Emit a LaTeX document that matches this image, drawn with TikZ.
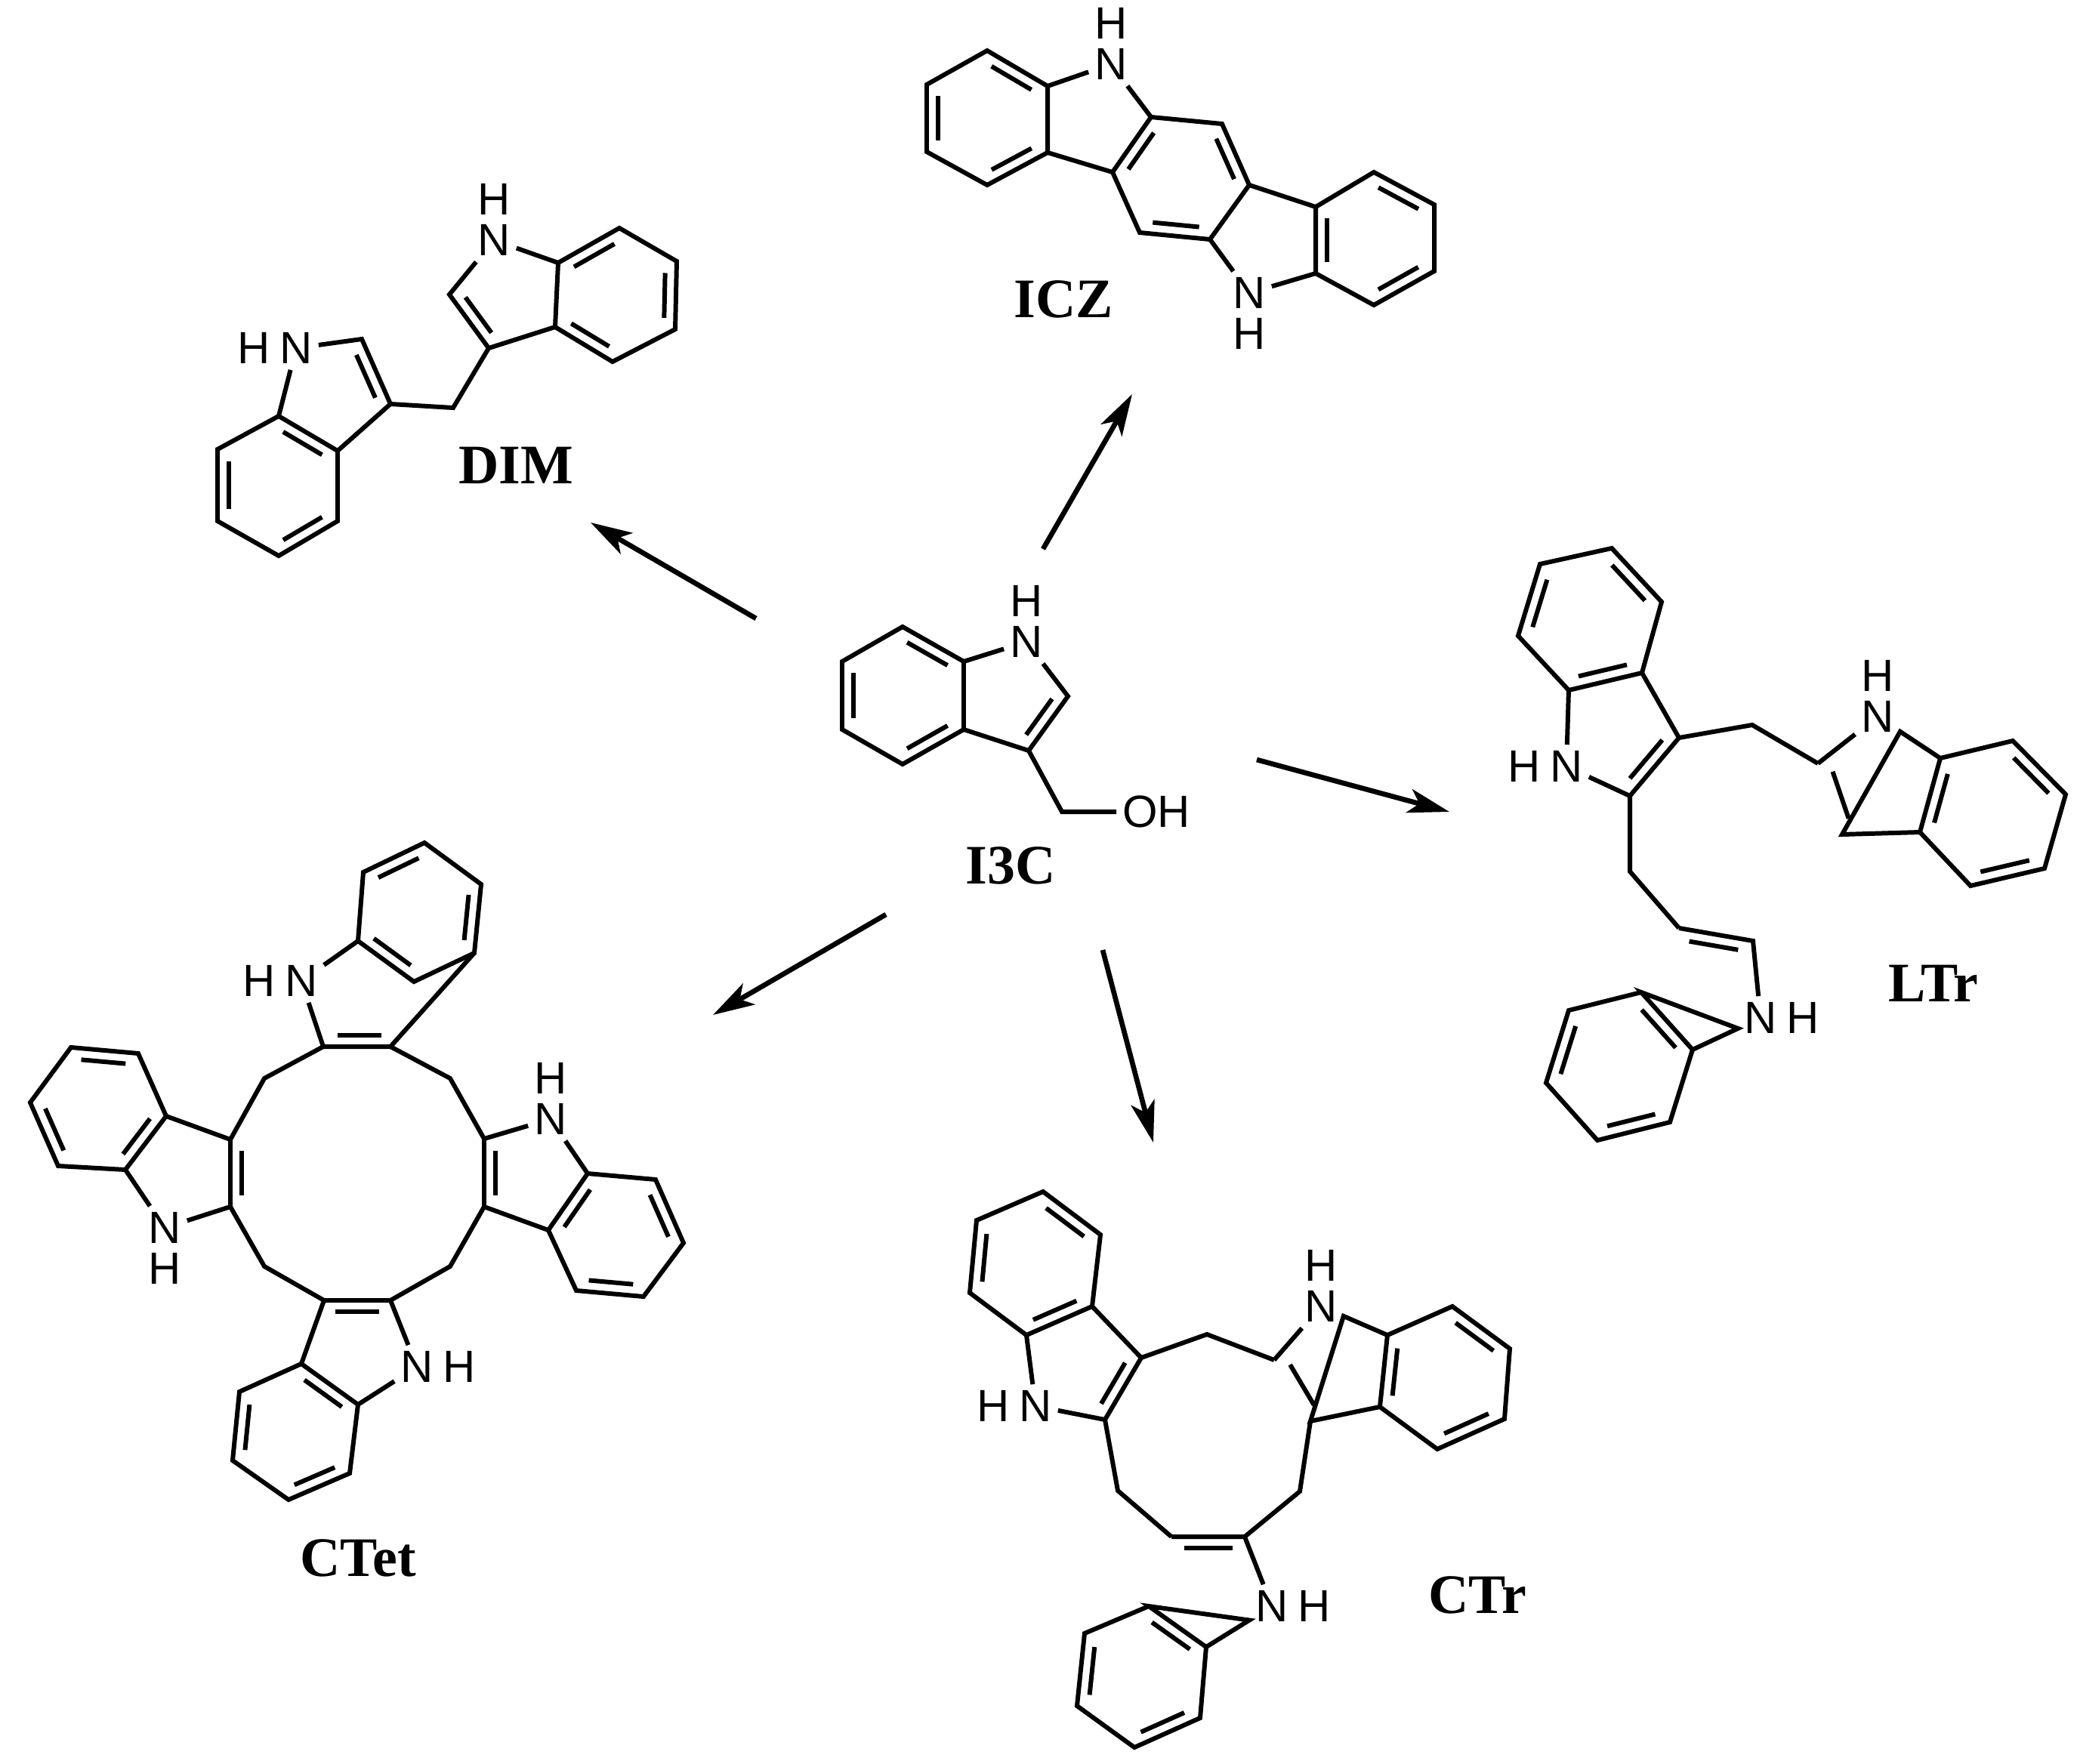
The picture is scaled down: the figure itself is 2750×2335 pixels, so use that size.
\documentclass[tikz,border=0pt]{standalone}
\usepackage{fontspec}
\usetikzlibrary{calc,arrows.meta}
\newfontfamily\atomfont{Liberation Sans}
\newfontfamily\labfont{Liberation Serif}
\newcommand\dbond[3]{%
 \coordinate (dbM) at ($(#1)!0.5!(#2)$);
 \coordinate (dbD) at ($(dbM)!0.15cm!(#3)$);
 \coordinate (dbP) at ($(#1)!0.17!(#2)$);
 \coordinate (dbQ) at ($(#2)!0.17!(#1)$);
 \draw ($(dbP)+(dbD)-(dbM)$) -- ($(dbQ)+(dbD)-(dbM)$);}
\newcommand\cen[6]{\coordinate (#1) at ($0.2*(#2)+0.2*(#3)+0.2*(#4)+0.2*(#5)+0.2*(#6)$);}
\tikzset{
 atom/.style={font=\atomfont\fontsize{17}{17}\selectfont, inner sep=1.5pt},
 hat/.style={font=\atomfont\fontsize{17}{17}\selectfont, inner sep=0.5pt},
 lbl/.style={font=\labfont\bfseries\fontsize{21}{21}\selectfont},
 rxn/.style={-{Stealth[length=0.55cm,width=0.32cm,inset=0.14cm]}, line width=1.9pt}
}
\begin{document}
\begin{tikzpicture}[x=0.01cm,y=-0.01cm,line width=1.7pt]
\useasboundingbox (0,0) rectangle (2750,2335);
% ---------- I3C ----------
\coordinate (a1) at (1195,830); \coordinate (a2) at (1115,876); \coordinate (a3) at (1115,966);
\coordinate (a4) at (1195,1012); \coordinate (a5) at (1276,966); \coordinate (a6) at (1276,876);
\node[atom] (aN) at (1359,850) {N}; \node[hat,anchor=south] at (aN.north) {H};
\coordinate (aC2) at (1414,922); \coordinate (aC3) at (1362,994); \coordinate (aCH) at (1406,1075);
\node[atom,anchor=west] (aO) at (1478,1075) {OH};
\draw (a1)--(a2)--(a3)--(a4)--(a5)--(a6)--cycle;
\draw (a6)--(aN)--(aC2)--(aC3)--(a5); \draw (aC3)--(aCH)--(aO);
\coordinate (ac) at ($(a1)!0.5!(a4)$); \cen{ap}{a6}{aN}{aC2}{aC3}{a5}
\dbond{a1}{a6}{ac}\dbond{a2}{a3}{ac}\dbond{a4}{a5}{ac}\dbond{aC2}{aC3}{ap}
\node[lbl] (lI3C) at (1338,1146) {I3C};
% ---------- ICZ ----------
\coordinate (b1) at (1307,67); \coordinate (b2) at (1227,112); \coordinate (b3) at (1227,201);
\coordinate (b4) at (1307,245); \coordinate (b5) at (1387,202); \coordinate (b6) at (1387,114);
\node[atom] (bN1) at (1471,85) {N}; \node[hat,anchor=south] at (bN1.north) {H};
\coordinate (m1) at (1524,155); \coordinate (m2) at (1618,164); \coordinate (m3) at (1654,245);
\coordinate (m4) at (1602,317); \coordinate (m5) at (1509,308); \coordinate (m6) at (1473,228);
\node[atom] (bN2) at (1654,388) {N}; \node[hat,anchor=north] at (bN2.south) {H};
\coordinate (r1) at (1742,274); \coordinate (r2) at (1819,228); \coordinate (r3) at (1899,271);
\coordinate (r4) at (1899,359); \coordinate (r5) at (1819,404); \coordinate (r6) at (1742,362);
\draw (b1)--(b2)--(b3)--(b4)--(b5)--(b6)--cycle;
\draw (m1)--(m2)--(m3)--(m4)--(m5)--(m6)--cycle;
\draw (r1)--(r2)--(r3)--(r4)--(r5)--(r6)--cycle;
\draw (b6)--(bN1)--(m1); \draw (m6)--(b5); \draw (m3)--(r1); \draw (r6)--(bN2)--(m4);
\coordinate (bc) at ($(b1)!0.5!(b4)$); \coordinate (mc) at ($(m1)!0.5!(m4)$); \coordinate (rc) at ($(r1)!0.5!(r4)$);
\dbond{b1}{b6}{bc}\dbond{b2}{b3}{bc}\dbond{b4}{b5}{bc}
\dbond{m1}{m6}{mc}\dbond{m2}{m3}{mc}\dbond{m4}{m5}{mc}
\dbond{r1}{r6}{rc}\dbond{r2}{r3}{rc}\dbond{r4}{r5}{rc}
\node[lbl] (lICZ) at (1408,396) {ICZ};
% ---------- DIM ----------
\coordinate (d1) at (369,551); \coordinate (d2) at (288,595); \coordinate (d3) at (288,690);
\coordinate (d4) at (369,736); \coordinate (d5) at (447,690); \coordinate (d6) at (447,597);
\node[atom] (dN) at (392,461) {N}; \node[hat,anchor=east] at (dN.west) {H};
\coordinate (dC2) at (479,449); \coordinate (dC3) at (517,535); \coordinate (dCH) at (600,540);
\coordinate (eC3) at (647,461); \coordinate (eC2) at (595,390);
\node[atom] (eN) at (654,318) {N}; \node[hat,anchor=south] at (eN.north) {H};
\coordinate (e1) at (739,348); \coordinate (e2) at (820,302); \coordinate (e3) at (896,346);
\coordinate (e4) at (894,436); \coordinate (e5) at (811,479); \coordinate (e6) at (735,433);
\draw (d1)--(d2)--(d3)--(d4)--(d5)--(d6)--cycle;
\draw (d1)--(dN)--(dC2)--(dC3)--(d6); \draw (dC3)--(dCH)--(eC3);
\draw (e1)--(e2)--(e3)--(e4)--(e5)--(e6)--cycle;
\draw (eC3)--(eC2)--(eN)--(e1); \draw (e6)--(eC3);
\coordinate (dc) at ($(d1)!0.5!(d4)$); \coordinate (ec) at ($(e1)!0.5!(e4)$);
\cen{dp}{d1}{dN}{dC2}{dC3}{d6}\cen{ep}{e1}{eN}{eC2}{eC3}{e6}
\dbond{d1}{d6}{dc}\dbond{d2}{d3}{dc}\dbond{d4}{d5}{dc}\dbond{dC2}{dC3}{dp}
\dbond{e1}{e2}{ec}\dbond{e3}{e4}{ec}\dbond{e5}{e6}{ec}\dbond{eC2}{eC3}{ep}
\node[lbl] (lDIM) at (683,616) {DIM};
% ---------- LTr ----------
\coordinate (A1) at (2134,726); \coordinate (A2) at (2039,747); \coordinate (A3) at (2010,842);
\coordinate (A4) at (2077,914); \coordinate (A5) at (2174,891); \coordinate (A6) at (2200,797);
\node[atom] (AN) at (2074,1015) {N}; \node[hat,anchor=east] at (AN.west) {H};
\coordinate (AC2) at (2158,1054); \coordinate (AC3) at (2223,977);
\coordinate (CHa) at (2320,960); \coordinate (CHb) at (2158,1154);
\coordinate (BC2) at (2407,1011); \node[atom] (BN) at (2486,949) {N}; \node[hat,anchor=south] at (BN.north) {H};
\coordinate (B7) at (2569,1004); \coordinate (B3) at (2542,1102); \coordinate (BC3) at (2439,1105);
\coordinate (Bb1) at (2665,981); \coordinate (Bb2) at (2735,1052); \coordinate (Bb3) at (2707,1150); \coordinate (Bb4) at (2609,1173);
\coordinate (CC3) at (2223,1229); \coordinate (CC2) at (2321,1246);
\node[atom] (CN) at (2331,1348) {N}; \node[hat,anchor=west] at (CN.east) {H};
\coordinate (C7) at (2241,1390); \coordinate (C3) at (2173,1314);
\coordinate (Cb1) at (2077,1338); \coordinate (Cb2) at (2047,1434); \coordinate (Cb3) at (2115,1510); \coordinate (Cb4) at (2211,1486);
\draw (A1)--(A2)--(A3)--(A4)--(A5)--(A6)--cycle;
\draw (A4)--(AN)--(AC2)--(AC3)--(A5);
\draw (AC3)--(CHa)--(BC2); \draw (AC2)--(CHb)--(CC3);
\draw (BC2)--(BN)--(B7)--(B3)--(BC3)--cycle;
\draw (B7)--(Bb1)--(Bb2)--(Bb3)--(Bb4)--(B3);
\draw (CC3)--(CC2)--(CN)--(C7)--(C3)--cycle;
\draw (C3)--(Cb1)--(Cb2)--(Cb3)--(Cb4)--(C7);
\coordinate (Ac) at ($(A1)!0.5!(A4)$); \coordinate (Bc) at ($(B7)!0.5!(Bb3)$); \coordinate (Cc) at ($(C3)!0.5!(Cb3)$);
\cen{Ap}{A4}{AN}{AC2}{AC3}{A5}\cen{Bp}{BC2}{BN}{B7}{B3}{BC3}\cen{Cp}{CC3}{CC2}{CN}{C7}{C3}
\dbond{A1}{A6}{Ac}\dbond{A2}{A3}{Ac}\dbond{A4}{A5}{Ac}\dbond{AC2}{AC3}{Ap}
\dbond{B7}{B3}{Bc}\dbond{Bb1}{Bb2}{Bc}\dbond{Bb3}{Bb4}{Bc}\dbond{BC2}{BC3}{Bp}
\dbond{C3}{C7}{Cc}\dbond{Cb1}{Cb2}{Cc}\dbond{Cb3}{Cb4}{Cc}\dbond{CC3}{CC2}{Cp}
\node[lbl] (lLTr) at (2560,1302) {LTr};
% ---------- CTet ----------
\coordinate (T1) at (481,1155); \coordinate (T2) at (562,1116); \coordinate (T3) at (637,1171);
\coordinate (T4) at (628,1262); \coordinate (T5) at (548,1300); \coordinate (T6) at (474,1246);
\node[atom] (TN) at (399,1299) {N}; \node[hat,anchor=east] at (TN.west) {H};
\coordinate (TC2) at (428,1386); \coordinate (TC3) at (517,1386);
\coordinate (Lb1) at (220,1478); \coordinate (Lb2) at (183,1395); \coordinate (Lb3) at (94,1387);
\coordinate (Lb4) at (40,1460); \coordinate (Lb5) at (77,1544); \coordinate (Lb6) at (166,1549);
\coordinate (LC3) at (305,1509); \coordinate (LC2) at (305,1598);
\node[atom] (LN) at (218,1626) {N}; \node[hat,anchor=north] at (LN.south) {H};
\coordinate (RC2) at (641,1508); \coordinate (RC3) at (641,1598);
\node[atom] (RN) at (729,1482) {N}; \node[hat,anchor=south] at (RN.north) {H};
\coordinate (Rb1) at (778,1554); \coordinate (Rb2) at (868,1562); \coordinate (Rb3) at (905,1646);
\coordinate (Rb4) at (852,1717); \coordinate (Rb5) at (763,1709); \coordinate (Rb6) at (726,1629);
\coordinate (DC3) at (429,1722); \coordinate (DC2) at (517,1722);
\node[atom] (DN) at (552,1810) {N}; \node[hat,anchor=west] at (DN.east) {H};
\coordinate (Db1) at (474,1860); \coordinate (Db2) at (463,1951); \coordinate (Db3) at (382,1986);
\coordinate (Db4) at (308,1934); \coordinate (Db5) at (317,1843); \coordinate (Db6) at (399,1806);
\coordinate (Q1) at (350,1428); \coordinate (Q2) at (596,1428); \coordinate (Q3) at (350,1677); \coordinate (Q4) at (596,1677);
\draw (T1)--(T2)--(T3)--(T4)--(T5)--(T6)--cycle;
\draw (T6)--(TN)--(TC2)--(TC3)--(T4);
\draw (Lb1)--(Lb2)--(Lb3)--(Lb4)--(Lb5)--(Lb6)--cycle;
\draw (Lb1)--(LC3)--(LC2)--(LN)--(Lb6);
\draw (Rb1)--(Rb2)--(Rb3)--(Rb4)--(Rb5)--(Rb6)--cycle;
\draw (Rb1)--(RN)--(RC2)--(RC3)--(Rb6);
\draw (Db1)--(Db2)--(Db3)--(Db4)--(Db5)--(Db6)--cycle;
\draw (Db6)--(DC3)--(DC2)--(DN)--(Db1);
\draw (TC2)--(Q1)--(LC3); \draw (TC3)--(Q2)--(RC2); \draw (LC2)--(Q3)--(DC3); \draw (RC3)--(Q4)--(DC2);
\coordinate (Tc) at ($(T1)!0.5!(T4)$); \coordinate (Lc) at ($(Lb1)!0.5!(Lb4)$);
\coordinate (Rc) at ($(Rb1)!0.5!(Rb4)$); \coordinate (Dc) at ($(Db1)!0.5!(Db4)$);
\cen{Tp}{T6}{TN}{TC2}{TC3}{T4}\cen{Rp}{Rb1}{RN}{RC2}{RC3}{Rb6}\cen{Dp}{Db6}{DC3}{DC2}{DN}{Db1}
\coordinate (Mc) at (473,1553);
\dbond{T1}{T2}{Tc}\dbond{T3}{T4}{Tc}\dbond{T5}{T6}{Tc}\dbond{TC2}{TC3}{Tp}
\dbond{Lb2}{Lb3}{Lc}\dbond{Lb4}{Lb5}{Lc}\dbond{Lb6}{Lb1}{Lc}\dbond{LC3}{LC2}{Mc}
\dbond{Rb1}{Rb6}{Rc}\dbond{Rb2}{Rb3}{Rc}\dbond{Rb4}{Rb5}{Rc}\dbond{RC2}{RC3}{Rp}
\dbond{Db6}{Db1}{Dc}\dbond{Db4}{Db5}{Dc}\dbond{Db2}{Db3}{Dc}\dbond{DC3}{DC2}{Dp}
\node[lbl] (lCTet) at (474,2063) {CTet};
% ---------- CTr ----------
\coordinate (U1) at (1381,1578); \coordinate (U2) at (1293,1616); \coordinate (U3) at (1284,1712);
\coordinate (U4) at (1359,1768); \coordinate (U5) at (1446,1730); \coordinate (U6) at (1457,1635);
\node[atom] (UN) at (1371,1862) {N}; \node[hat,anchor=east] at (UN.west) {H};
\coordinate (UC2) at (1463,1880); \coordinate (UC3) at (1511,1798);
\coordinate (VC2) at (1687,1801); \node[atom] (VN) at (1749,1730) {N}; \node[hat,anchor=south] at (VN.north) {H};
\coordinate (V7) at (1837,1768); \coordinate (V3) at (1827,1863); \coordinate (VC3) at (1735,1882);
\coordinate (Vb1) at (1923,1730); \coordinate (Vb2) at (1999,1786); \coordinate (Vb3) at (1992,1879); \coordinate (Vb4) at (1903,1919);
\coordinate (WC3) at (1551,2035); \coordinate (WC2) at (1648,2035);
\node[atom] (WN) at (1684,2127) {N}; \node[hat,anchor=west] at (WN.east) {H};
\coordinate (W7) at (1597,2181); \coordinate (W3) at (1521,2127);
\coordinate (Wb1) at (1436,2163); \coordinate (Wb2) at (1426,2259); \coordinate (Wb3) at (1502,2314); \coordinate (Wb4) at (1589,2275);
\coordinate (P1) at (1598,1767); \coordinate (P2) at (1721,1975); \coordinate (P3) at (1480,1974);
\draw (U1)--(U2)--(U3)--(U4)--(U5)--(U6)--cycle;
\draw (U4)--(UN)--(UC2)--(UC3)--(U5);
\draw (VC2)--(VN)--(V7)--(V3)--(VC3)--cycle;
\draw (V7)--(Vb1)--(Vb2)--(Vb3)--(Vb4)--(V3);
\draw (WC3)--(WC2)--(WN)--(W7)--(W3)--cycle;
\draw (W3)--(Wb1)--(Wb2)--(Wb3)--(Wb4)--(W7);
\draw (UC3)--(P1)--(VC2); \draw (VC3)--(P2)--(WC2); \draw (UC2)--(P3)--(WC3);
\coordinate (Uc) at ($(U1)!0.5!(U4)$); \coordinate (Vc) at ($(V7)!0.5!(Vb3)$); \coordinate (Wc) at ($(W3)!0.5!(Wb3)$);
\cen{Up}{U4}{UN}{UC2}{UC3}{U5}\cen{Vp}{VC2}{VN}{V7}{V3}{VC3}\cen{Wp}{WC3}{WC2}{WN}{W7}{W3}
\dbond{U1}{U6}{Uc}\dbond{U2}{U3}{Uc}\dbond{U4}{U5}{Uc}\dbond{UC2}{UC3}{Up}
\dbond{V7}{V3}{Vc}\dbond{Vb1}{Vb2}{Vc}\dbond{Vb3}{Vb4}{Vc}\dbond{VC2}{VC3}{Vp}
\dbond{W3}{W7}{Wc}\dbond{Wb1}{Wb2}{Wc}\dbond{Wb3}{Wb4}{Wc}\dbond{WC3}{WC2}{Wp}
\node[lbl] (lCTr) at (1956,2112) {CTr};
% ---------- arrows ----------
\coordinate (s1) at (1381,727); \coordinate (t1) at (1499,522);
\coordinate (s2) at (1001,819); \coordinate (t2) at (782,692);
\coordinate (s3) at (1664,1006); \coordinate (t3) at (1919,1075);
\coordinate (s4) at (1173,1211); \coordinate (t4) at (944,1344);
\coordinate (s5) at (1460,1258); \coordinate (t5) at (1527,1513);
\draw[rxn] (s1)--(t1); \draw[rxn] (s2)--(t2); \draw[rxn] (s3)--(t3);
\draw[rxn] (s4)--(t4); \draw[rxn] (s5)--(t5);
\end{tikzpicture}
\end{document}
